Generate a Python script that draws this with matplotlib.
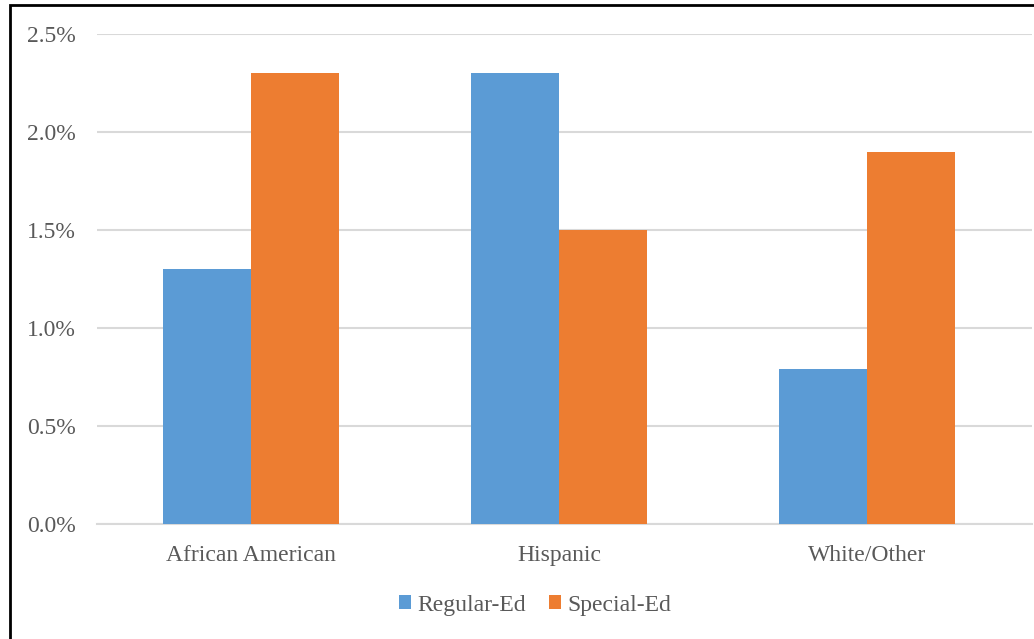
import numpy as np
import matplotlib.pyplot as plt
from matplotlib.patches import Rectangle

categories = ['African American', 'Hispanic', 'White/Other']
regular_ed = [1.3, 2.3, 0.79]
special_ed = [2.3, 1.5, 1.9]
yticks = [0.0, 0.5, 1.0, 1.5, 2.0, 2.5]

blue = '#5B9BD5'
orange = '#ED7D31'
txt = '#595959'
plt.rcParams['font.family'] = ['Liberation Serif', 'DejaVu Serif']

fig = plt.figure(figsize=(10.34, 6.39), dpi=100)
ax = fig.add_axes([97/1034, 1-524/639, (1032-97)/1034, (524-34)/639])

x = np.arange(len(categories))
w = 0.286
ax.bar(x - w/2, regular_ed, w, color=blue, label='Regular-Ed', zorder=3)
ax.bar(x + w/2, special_ed, w, color=orange, label='Special-Ed', zorder=3)

ax.set_xlim(-0.5, 2.5 + 11/308)
ax.set_ylim(0, 2.5)
ax.set_yticks(yticks)
ax.set_yticklabels(['%.1f%%' % v for v in yticks])
ax.set_xticks(x)
ax.set_xticklabels(categories)
ax.tick_params(axis='y', length=0, pad=15, labelsize=17, labelcolor=txt)
ax.tick_params(axis='x', length=0, pad=15, labelsize=17, labelcolor=txt)
ax.grid(axis='y', color='#D9D9D9', lw=1.5, zorder=0)
for s in ['top', 'right', 'left']:
    ax.spines[s].set_visible(False)
ax.spines['bottom'].set_color('#D9D9D9')
ax.spines['bottom'].set_linewidth(1.5)

ax.legend(loc='center', bbox_to_anchor=(535/1034, 1-605/639), bbox_transform=fig.transFigure,
          ncol=2, frameon=False, fontsize=17, labelcolor=txt,
          handlelength=0.5, handleheight=0.5, handletextpad=0.25, columnspacing=1.0)

# outer frame
fig.patches.append(Rectangle((10/1034, -0.1), 1.2, 1.1 - 5/639, transform=fig.transFigure,
                             fill=False, edgecolor='black', lw=2))

fig.savefig('out.png', dpi=100)
